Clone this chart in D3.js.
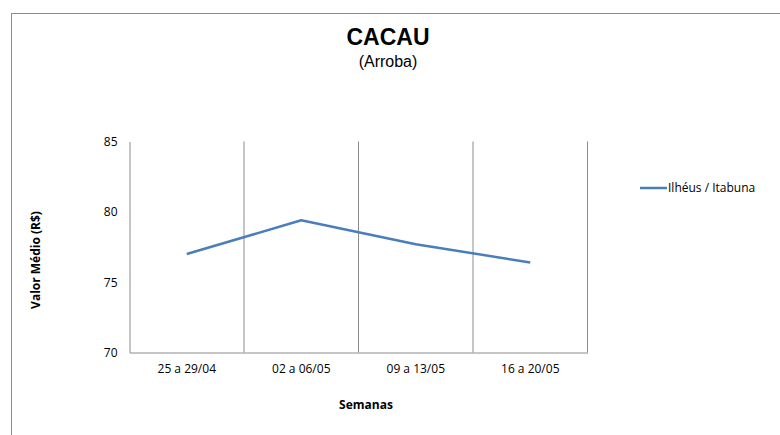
<!DOCTYPE html>
<html>
<head>
<meta charset="utf-8">
<script src="https://cdn.jsdelivr.net/npm/d3@7"></script>
<style>
    body { margin: 0; background: #fff; }
    svg { display: block; }
    .tick-txt { font-family: "Open Sans", sans-serif; font-size: 12px; fill: #000; }
</style>
</head>
<body>
<div id="chart"></div>
<script>
// dados
var semanas = ["25 a 29/04", "02 a 06/05", "09 a 13/05", "16 a 20/05"];
var ilheusItabuna = [77.0, 79.4, 77.7, 76.4];
var yTicks = [70, 75, 80, 85];
var serieNome = "Ilhéus / Itabuna";

var width = 780, height = 435;
var margin = { left: 129.5, top: 141.5, right: 587.5, bottom: 352.5 };

var svg = d3.select("#chart")
    .append("svg")
    .attr("width", width)
    .attr("height", height);

// borda externa (area do grafico)
svg.append("rect")
    .attr("x", 11.5)
    .attr("y", 13.5)
    .attr("width", 900)
    .attr("height", 600)
    .attr("fill", "none")
    .attr("stroke", "#8c8c8c")
    .attr("stroke-width", 1);

var x = d3.scaleBand()
    .domain(semanas)
    .range([margin.left, margin.right])
    .padding(0);

var y = d3.scaleLinear()
    .domain([70, 85])
    .range([margin.bottom, margin.top]);

// titulo
svg.append("text")
    .attr("x", 388)
    .attr("y", 45)
    .attr("text-anchor", "middle")
    .style("font-family", "Liberation Sans, Arial, sans-serif")
    .style("font-weight", "bold")
    .style("font-size", "23px")
    .text("CACAU");

svg.append("text")
    .attr("x", 388)
    .attr("y", 67)
    .attr("text-anchor", "middle")
    .style("font-family", "Liberation Sans, Arial, sans-serif")
    .style("font-size", "16px")
    .text("(Arroba)");

// linhas de grade verticais (limites das categorias)
var bounds = semanas.map(function (d) { return x(d) + x.bandwidth(); });
svg.append("g")
    .selectAll("line")
    .data(bounds)
    .enter().append("line")
    .attr("x1", function (d) { return d; })
    .attr("x2", function (d) { return d; })
    .attr("y1", margin.top)
    .attr("y2", margin.bottom)
    .attr("stroke", "#8c8c8c")
    .attr("stroke-width", 1);

// eixo y
var yAxis = svg.append("g")
    .attr("transform", "translate(" + margin.left + ",0)")
    .call(d3.axisLeft(y).tickValues(yTicks).tickSize(0).tickPadding(12));
yAxis.select(".domain").attr("stroke", "#8c8c8c");
yAxis.selectAll("text").attr("class", "tick-txt");

// eixo x
var xAxis = svg.append("g")
    .attr("transform", "translate(0," + margin.bottom + ")")
    .call(d3.axisBottom(x).tickSize(0).tickPadding(12));
xAxis.select(".domain").attr("stroke", "#8c8c8c");
xAxis.selectAll("text").attr("class", "tick-txt");

// titulos dos eixos
svg.append("text")
    .attr("x", 366)
    .attr("y", 409)
    .attr("text-anchor", "middle")
    .attr("class", "tick-txt")
    .style("font-weight", "bold")
    .text("Semanas");

svg.append("text")
    .attr("transform", "translate(40,260) rotate(-90)")
    .attr("text-anchor", "middle")
    .attr("class", "tick-txt")
    .style("font-weight", "bold")
    .style("font-size", "12px")
    .text("Valor Médio (R$)");

// serie
var line = d3.line()
    .x(function (d, i) { return x(semanas[i]) + x.bandwidth() / 2; })
    .y(function (d) { return y(d); });

svg.append("path")
    .datum(ilheusItabuna)
    .attr("d", line)
    .attr("fill", "none")
    .attr("stroke", "#4a7ebb")
    .attr("stroke-width", 2.5)
    .attr("stroke-linejoin", "round");

// legenda
var leg = svg.append("g");
leg.append("line")
    .attr("x1", 640)
    .attr("x2", 667)
    .attr("y1", 188)
    .attr("y2", 188)
    .attr("stroke", "#4a7ebb")
    .attr("stroke-width", 2.5);
leg.append("text")
    .attr("x", 668)
    .attr("y", 192)
    .attr("class", "tick-txt")
    .style("font-size", "12px")
    .text(serieNome);
</script>
</body>
</html>
